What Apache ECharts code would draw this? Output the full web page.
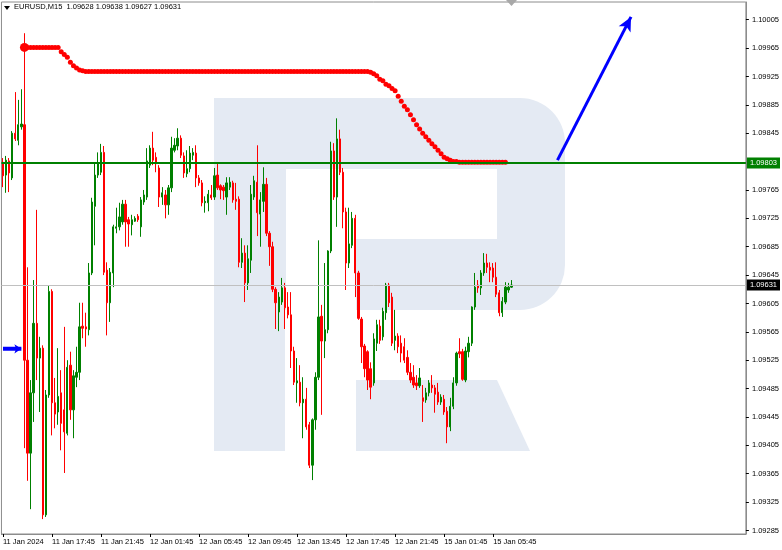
<!DOCTYPE html>
<html>
<head>
<meta charset="utf-8">
<script src="https://cdn.jsdelivr.net/npm/echarts@6/dist/echarts.min.js"></script>
<style>
  html, body { margin: 0; padding: 0; background: #ffffff; }
  #chart { width: 782px; height: 550px; }
</style>
</head>
<body>
<div id="chart"></div>
<script>
// ---------------- DATA ----------------
const symbolName = 'EURUSD,M15';

// x-axis tick labels (one every 16 bars of M15)
const tickLabels = ['11 Jan 2024', '11 Jan 17:45', '11 Jan 21:45', '12 Jan 01:45', '12 Jan 05:45',
  '12 Jan 09:45', '12 Jan 13:45', '12 Jan 17:45', '12 Jan 21:45', '15 Jan 01:45', '15 Jan 05:45'];

// y-axis tick values
const yTicks = [1.10005, 1.09965, 1.09925, 1.09885, 1.09845, 1.09765, 1.09725, 1.09685, 1.09645,
  1.09605, 1.09565, 1.09525, 1.09485, 1.09445, 1.09405, 1.09365, 1.09325, 1.09285];

const opens = [1.09804,1.09786,1.09806,1.09782,1.09845,1.09835,1.09854,1.09857,1.09525,1.09394,
1.09479,1.09577,1.09528,1.09542,1.09307,1.09476,1.09622,1.09465,1.09452,1.09479,
1.09455,1.09422,1.09518,1.09455,1.09501,1.09508,1.09573,1.09572,1.09568,1.09648,
1.09742,1.09786,1.09790,1.09818,1.09652,1.09606,1.09648,1.09711,1.09713,1.09720,
1.09745,1.09723,1.09716,1.09721,1.09728,1.09713,1.09748,1.09755,1.09800,1.09824,
1.09811,1.09796,1.09755,1.09758,1.09744,1.09768,1.09821,1.09827,1.09838,1.09813,
1.09788,1.09795,1.09814,1.09817,1.09782,1.09775,1.09747,1.09747,1.09758,1.09755,
1.09786,1.09771,1.09769,1.09755,1.09769,1.09775,1.09752,1.09752,1.09663,1.09676,
1.09634,1.09666,1.09755,1.09776,1.09731,1.09749,1.09773,1.09704,1.09685,1.09625,
1.09593,1.09607,1.09627,1.09600,1.09589,1.09538,1.09493,1.09494,1.09465,1.09470,
1.09434,1.09377,1.09441,1.09501,1.09587,1.09552,1.09568,1.09679,1.09820,1.09755,
1.09837,1.09790,1.09734,1.09662,1.09687,1.09725,1.09648,1.09583,1.09545,1.09537,
1.09513,1.09493,1.09549,1.09573,1.09558,1.09592,1.09631,1.09614,1.09553,1.09559,
1.09549,1.09544,1.09529,1.09508,1.09501,1.09493,1.09489,1.09472,1.09469,1.09479,
1.09490,1.09486,1.09480,1.09466,1.09470,1.09453,1.09431,1.09460,1.09493,1.09537,
1.09537,1.09497,1.09537,1.09549,1.09600,1.09631,1.09627,1.09648,1.09662,1.09656,
1.09655,1.09642,1.09620,1.09592,1.09607,1.09624,1.09628];

const closes = [1.09785,1.09807,1.09789,1.09845,1.09837,1.09857,1.09858,1.09525,1.09394,1.09479,
1.09577,1.09528,1.09542,1.09307,1.09476,1.09622,1.09465,1.09449,1.09474,1.09436,
1.09424,1.09515,1.09455,1.09503,1.09508,1.09572,1.09570,1.09569,1.09648,1.09748,
1.09786,1.09803,1.09818,1.09649,1.09606,1.09649,1.09713,1.09713,1.09727,1.09745,
1.09720,1.09717,1.09723,1.09725,1.09723,1.09751,1.09758,1.09806,1.09824,1.09807,
1.09802,1.09755,1.09761,1.09744,1.09768,1.09824,1.09828,1.09838,1.09814,1.09789,
1.09795,1.09817,1.09818,1.09782,1.09775,1.09747,1.09749,1.09759,1.09754,1.09785,
1.09768,1.09765,1.09764,1.09775,1.09776,1.09751,1.09749,1.09663,1.09676,1.09634,
1.09668,1.09759,1.09778,1.09733,1.09751,1.09773,1.09704,1.09685,1.09625,1.09606,
1.09614,1.09627,1.09599,1.09589,1.09538,1.09494,1.09496,1.09465,1.09470,1.09431,
1.09377,1.09441,1.09501,1.09586,1.09552,1.09568,1.09679,1.09820,1.09755,1.09837,
1.09790,1.09734,1.09662,1.09689,1.09725,1.09648,1.09584,1.09544,1.09513,1.09497,
1.09487,1.09555,1.09575,1.09553,1.09594,1.09631,1.09606,1.09549,1.09559,1.09544,
1.09535,1.09525,1.09508,1.09497,1.09490,1.09489,1.09500,1.09467,1.09479,1.09493,
1.09486,1.09477,1.09466,1.09473,1.09452,1.09431,1.09460,1.09493,1.09535,1.09534,
1.09498,1.09538,1.09549,1.09600,1.09628,1.09627,1.09648,1.09662,1.09656,1.09652,
1.09642,1.09618,1.09592,1.09608,1.09628,1.09628,1.09631];

const lows = [1.09769,1.09761,1.09762,1.09779,1.09834,1.09828,1.09850,1.09401,1.09355,1.09315,
1.09438,1.09497,1.09452,1.09301,1.09304,1.09472,1.09419,1.09429,1.09434,1.09398,
1.09366,1.09419,1.09441,1.09415,1.09487,1.09497,1.09556,1.09544,1.09560,1.09645,
1.09687,1.09782,1.09786,1.09645,1.09560,1.09579,1.09628,1.09704,1.09708,1.09716,
1.09685,1.09685,1.09701,1.09720,1.09720,1.09699,1.09744,1.09751,1.09796,1.09800,
1.09790,1.09741,1.09744,1.09725,1.09730,1.09762,1.09818,1.09821,1.09810,1.09782,
1.09783,1.09790,1.09807,1.09769,1.09771,1.09742,1.09733,1.09735,1.09751,1.09751,
1.09765,1.09752,1.09751,1.09730,1.09765,1.09747,1.09737,1.09656,1.09655,1.09607,
1.09624,1.09648,1.09751,1.09700,1.09685,1.09734,1.09700,1.09658,1.09621,1.09569,
1.09566,1.09603,1.09569,1.09584,1.09514,1.09490,1.09465,1.09460,1.09415,1.09427,
1.09373,1.09356,1.09427,1.09497,1.09448,1.09528,1.09563,1.09676,1.09751,1.09713,
1.09786,1.09711,1.09624,1.09655,1.09683,1.09614,1.09582,1.09521,1.09501,1.09483,
1.09470,1.09489,1.09538,1.09548,1.09553,1.09582,1.09600,1.09545,1.09539,1.09535,
1.09522,1.09521,1.09504,1.09493,1.09486,1.09483,1.09486,1.09438,1.09465,1.09474,
1.09479,1.09451,1.09462,1.09462,1.09448,1.09408,1.09425,1.09456,1.09489,1.09528,
1.09496,1.09494,1.09529,1.09545,1.09596,1.09620,1.09617,1.09644,1.09648,1.09635,
1.09635,1.09614,1.09587,1.09586,1.09604,1.09620,1.09627];

const highs = [1.09810,1.09813,1.09810,1.09848,1.09903,1.09892,1.09907,1.09986,1.09656,1.09497,
1.09638,1.09737,1.09558,1.09546,1.09483,1.09630,1.09625,1.09500,1.09542,1.09511,
1.09572,1.09525,1.09537,1.09511,1.09544,1.09606,1.09606,1.09592,1.09662,1.09754,
1.09803,1.09818,1.09830,1.09827,1.09663,1.09655,1.09716,1.09740,1.09747,1.09751,
1.09751,1.09727,1.09730,1.09728,1.09731,1.09755,1.09765,1.09824,1.09828,1.09847,
1.09818,1.09800,1.09769,1.09765,1.09772,1.09840,1.09838,1.09852,1.09842,1.09818,
1.09821,1.09827,1.09824,1.09828,1.09786,1.09779,1.09756,1.09765,1.09772,1.09796,
1.09803,1.09773,1.09772,1.09783,1.09783,1.09778,1.09775,1.09756,1.09697,1.09687,
1.09687,1.09772,1.09785,1.09828,1.09762,1.09797,1.09782,1.09707,1.09692,1.09628,
1.09621,1.09641,1.09634,1.09621,1.09621,1.09544,1.09528,1.09518,1.09501,1.09486,
1.09438,1.09443,1.09508,1.09694,1.09603,1.09662,1.09680,1.09833,1.09831,1.09866,
1.09850,1.09796,1.09740,1.09740,1.09734,1.09730,1.09651,1.09586,1.09548,1.09539,
1.09522,1.09563,1.09582,1.09582,1.09599,1.09634,1.09634,1.09620,1.09596,1.09563,
1.09560,1.09556,1.09539,1.09521,1.09518,1.09504,1.09514,1.09490,1.09486,1.09497,
1.09504,1.09490,1.09493,1.09477,1.09476,1.09459,1.09472,1.09501,1.09537,1.09556,
1.09541,1.09544,1.09558,1.09601,1.09648,1.09638,1.09652,1.09676,1.09675,1.09663,
1.09662,1.09663,1.09624,1.09614,1.09635,1.09634,1.09638];

// red step indicator (starts at bar 7)
const redDots = [null,null,null,null,null,null,null,
1.09966,1.09966,1.09966,1.09966,1.09966,1.09966,1.09966,1.09966,1.09966,1.09966,1.09966,1.09966,
1.09960,1.09956,1.09952,1.09945,1.09940,1.09937,1.09934,1.09933,
1.09932,1.09932,1.09932,1.09932,1.09932,1.09932,1.09932,1.09932,1.09932,1.09932,
1.09932,1.09932,1.09932,1.09932,1.09932,1.09932,1.09932,1.09932,1.09932,1.09932,
1.09932,1.09932,1.09932,1.09932,1.09932,1.09932,1.09932,1.09932,1.09932,1.09932,
1.09932,1.09932,1.09932,1.09932,1.09932,1.09932,1.09932,1.09932,1.09932,1.09932,
1.09932,1.09932,1.09932,1.09932,1.09932,1.09932,1.09932,1.09932,1.09932,1.09932,
1.09932,1.09932,1.09932,1.09932,1.09932,1.09932,1.09932,1.09932,1.09932,1.09932,
1.09932,1.09932,1.09932,1.09932,1.09932,1.09932,1.09932,1.09932,1.09932,1.09932,
1.09932,1.09932,1.09932,1.09932,1.09932,1.09932,1.09932,1.09932,1.09932,1.09932,
1.09932,1.09932,1.09932,1.09932,1.09932,1.09932,1.09932,1.09932,1.09932,1.09932,
1.09932,1.09932,1.09932,
1.09931,1.09929,1.09926,1.09921,1.09919,1.09914,1.09912,1.09908,1.09905,1.09897,
1.09890,1.09883,1.09878,1.09871,1.09864,1.09857,1.09851,1.09845,1.09840,1.09835,
1.09830,1.09826,1.09821,1.09816,1.09811,1.09809,1.09807,1.09805,1.09805,
1.09804,1.09804,1.09804,1.09804,1.09804,1.09804,1.09804,1.09804,1.09804,1.09804,
1.09804,1.09804,1.09804,1.09804,1.09804,1.09804];

// blue indicator (first bars)
const blueDots = [1.09541,1.09541,1.09541,1.09541,1.09541,1.09541,1.09541];

const levelLine = 1.09803;              // horizontal support/resistance level
const forecastFrom = ['181', 1.09807];  // forecast arrow start (bar slot, price)
const forecastTo = ['205', 1.10009];    // forecast arrow end

const slotCount = 243;                  // visible bar slots on the chart
const labelStep = 16;                   // bars between time labels
const categories = Array.from({length: slotCount}, (_, i) => String(i));

// ---------------- CHART ----------------
const FONT = '"Liberation Sans", Arial, sans-serif';
const FS = 7.5;
const last = opens.length - 1;
const fmt = v => v.toFixed(5);
const candleData = opens.map((o, i) => [o, closes[i], lows[i], highs[i]]);
const showTick = (idx) => idx % labelStep === 0 && idx / labelStep < tickLabels.length;
const WM = '#e4eaf3';

const chart = echarts.init(document.getElementById('chart'), null, {renderer: 'canvas'});
chart.setOption({
  backgroundColor: '#ffffff',
  animation: false,
  title: {
    text: symbolName + '  ' + [opens[last], highs[last], lows[last], closes[last]].map(fmt).join(' '),
    left: 14, top: 3, padding: 0,
    textStyle: {fontSize: FS, fontWeight: 'normal', color: '#000', fontFamily: FONT}
  },
  grid: {left: 1, right: 36, top: 2, bottom: 16, show: true, borderColor: '#8c8c8c', borderWidth: 1,
    backgroundColor: 'transparent'},
  xAxis: {
    type: 'category', data: categories, boundaryGap: true,
    axisLine: {show: true, lineStyle: {color: '#8c8c8c'}},
    axisTick: {show: true, alignWithLabel: true, interval: showTick, length: 3, lineStyle: {color: '#000'}},
    axisLabel: {interval: showTick, formatter: (v, idx) => tickLabels[idx / labelStep] || '',
      align: 'left', margin: 4, fontSize: FS, color: '#000', fontFamily: FONT},
    splitLine: {show: false}
  },
  yAxis: {
    type: 'value', position: 'right', min: 1.09280, max: 1.10030, scale: true,
    splitLine: {show: false},
    axisLine: {show: true, lineStyle: {color: '#8c8c8c'}},
    axisTick: {show: true, length: 3, customValues: yTicks, lineStyle: {color: '#000'}},
    axisLabel: {customValues: yTicks, formatter: v => fmt(v), fontSize: FS, color: '#000',
      margin: 6, fontFamily: FONT}
  },
  graphic: [
    {type: 'rect', z: -10, silent: true, shape: {x: 214, y: 98, width: 351, height: 212, r: [0, 45, 45, 0]}, style: {fill: WM}},
    {type: 'rect', z: -10, silent: true, shape: {x: 214, y: 310, width: 71, height: 141}, style: {fill: WM}},
    {type: 'rect', z: -9, silent: true, shape: {x: 286, y: 169, width: 211, height: 70}, style: {fill: '#ffffff'}},
    {type: 'rect', z: -9, silent: true, shape: {x: 286, y: 239, width: 70, height: 71}, style: {fill: '#ffffff'}},
    {type: 'polygon', z: -10, silent: true, shape: {points: [[356, 380], [497, 380], [530, 451], [356, 451]]}, style: {fill: WM}},
    {type: 'polygon', z: 10, silent: true, shape: {points: [[4, 6], [10, 6], [7, 10]]}, style: {fill: '#000'}},
    {type: 'polygon', z: 10, silent: true, shape: {points: [[506, 0], [517, 0], [511.5, 6]]}, style: {fill: '#a8a8a8'}}
  ],
  series: [
    {
      type: 'candlestick', data: candleData, barWidth: 1.8, z: 3,
      itemStyle: {color: '#008000', color0: '#ff0000', borderColor: '#008000', borderColor0: '#ff0000', borderWidth: 1}
    },
    {
      type: 'scatter', data: redDots, z: 4,
      symbolSize: (v, p) => p.dataIndex === 7 ? 9 : 5,
      itemStyle: {color: '#ff0000', opacity: 1},
      markLine: {
        silent: true, animation: false, symbol: ['none', 'none'], precision: 5,
        data: [
          {yAxis: levelLine, lineStyle: {color: '#008000', width: 2, type: 'solid'},
            label: {show: true, position: 'end', formatter: fmt(levelLine), backgroundColor: '#008000', color: '#fff',
              padding: [2, 3, 1, 3], fontSize: FS, distance: 1, fontFamily: FONT}},
          {yAxis: closes[last], lineStyle: {color: '#c0c0c0', width: 1, type: 'solid'},
            label: {show: true, position: 'end', formatter: fmt(closes[last]), backgroundColor: '#000', color: '#fff',
              padding: [2, 3, 1, 3], fontSize: FS, distance: 1, fontFamily: FONT}},
          [
            {coord: forecastFrom, symbol: 'none', lineStyle: {color: '#0000ff', width: 3, type: 'solid'}, label: {show: false}},
            {coord: forecastTo, symbol: 'arrow', symbolSize: [10, 14]}
          ]
        ]
      }
    },
    {
      type: 'line', data: blueDots, z: 4, showAllSymbol: true,
      symbol: (v, p) => p.dataIndex === blueDots.length - 1 ? 'arrow' : 'none',
      symbolRotate: -90, symbolSize: 7,
      lineStyle: {color: '#0000ff', width: 4}, itemStyle: {color: '#0000ff'}
    }
  ]
});
</script>
</body>
</html>
